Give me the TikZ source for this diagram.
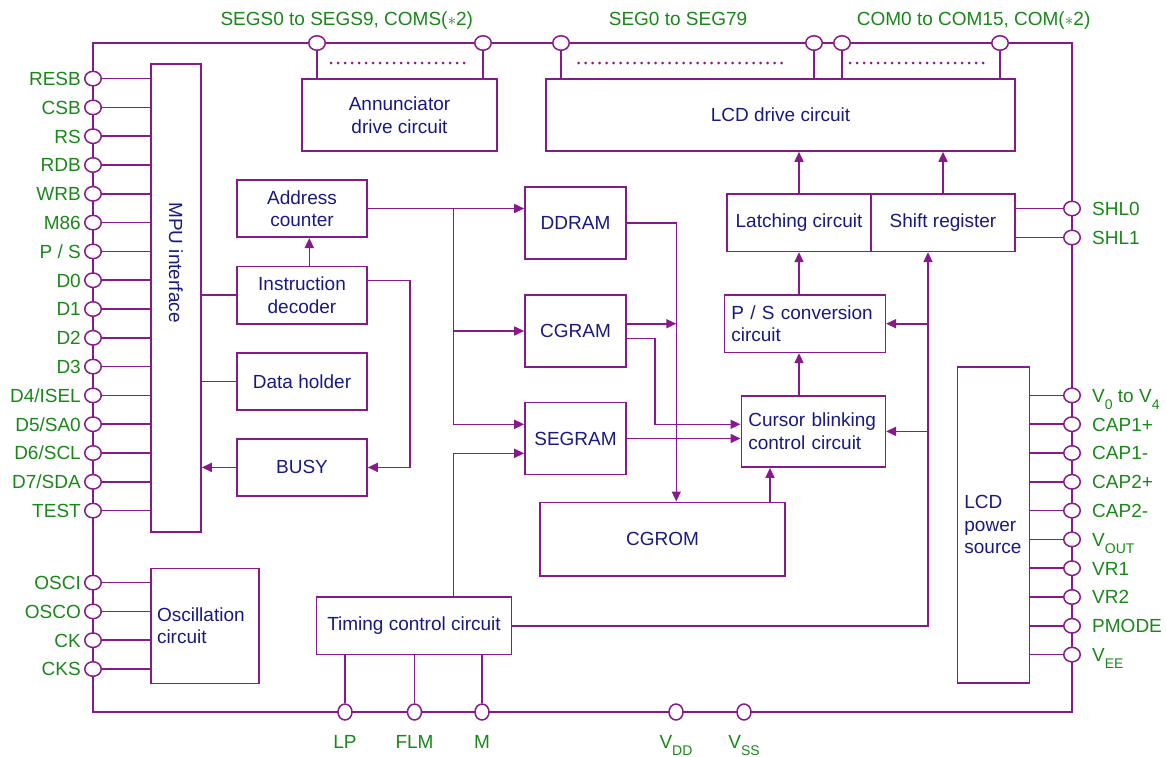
\documentclass[tikz,border=0pt]{standalone}
\usepackage{fontspec}
\setmainfont{Liberation Sans}
\usetikzlibrary{arrows.meta,shapes.geometric,calc}
\definecolor{lnc}{RGB}{135,25,140}
\definecolor{txc}{RGB}{25,25,130}
\definecolor{pnc}{RGB}{25,135,25}
\newcommand\pinsub[1]{\raisebox{-7pt}{\fontsize{14}{14}\selectfont #1}}
\begin{document}
\begin{tikzpicture}[x=1pt,y=-1pt,
  blk/.style={draw=lnc, line width=1.6pt, fill=white, text=txc, align=center, inner sep=0pt, font=\fontsize{19}{22.5}\selectfont},
  lblk/.style={blk, align=left, inner xsep=7pt},
  pin/.style={ellipse, draw=lnc, fill=white, line width=1.5pt, minimum width=16.5pt, minimum height=14.5pt, inner sep=0pt},
  bpin/.style={pin, minimum width=14pt, minimum height=16pt},
  wire/.style={draw=lnc, line width=1.6pt},
  arr/.style={wire, -{Triangle[length=10pt,width=9pt]}},
  lbl/.style={text=pnc, inner sep=0pt, font=\fontsize{19}{22.5}\selectfont},
  dots/.style={draw=lnc, line width=3pt, line cap=round, dash pattern=on 0pt off 7pt},
]
\useasboundingbox (0,0) rectangle (1166,756);

% frame
\coordinate (ftl) at (93,43);
\coordinate (ftr) at (1072,43);
\coordinate (fbr) at (1072,712);
\coordinate (fbl) at (93,712);
\draw[wire] (ftl) -- (ftr) -- (fbr) -- (fbl) -- cycle;

% blocks
\node[blk, minimum width=195pt, minimum height=72pt] (ann) at (399.5,115) {Annunciator\\drive circuit};
\node[blk, minimum width=469pt, minimum height=72pt] (lcd) at (780.5,115) {LCD drive circuit};
\node[blk, minimum width=50pt, minimum height=468pt] (mpu) at (176,298) {};
\node[text=txc, rotate=-90, inner sep=0pt, font=\fontsize{19}{22.5}\selectfont] (mputxt) at (176,262.5) {MPU interface};
\node[blk, minimum width=130pt, minimum height=57.4pt] (ac) at (302,208.5) {Address\\counter};
\node[blk, minimum width=130pt, minimum height=57.4pt] (id) at (302,295) {Instruction\\decoder};
\node[blk, minimum width=130pt, minimum height=57.4pt] (dh) at (302,381.4) {Data holder};
\node[blk, minimum width=130pt, minimum height=57.4pt] (busy) at (302,467.4) {BUSY};
\node[blk, minimum width=101pt, minimum height=72pt] (ddram) at (575.5,223) {DDRAM};
\node[blk, minimum width=101pt, minimum height=72pt] (cgram) at (575.5,331) {CGRAM};
\node[blk, minimum width=101pt, minimum height=72pt] (segram) at (575.5,438.5) {SEGRAM};
\node[blk, minimum width=245pt, minimum height=73.4pt] (cgrom) at (662.5,539) {CGROM};
\node[blk, minimum width=144pt, minimum height=57.3pt] (latch) at (799,222.7) {Latching circuit};
\node[blk, minimum width=144pt, minimum height=57.3pt] (shift) at (943,222.7) {Shift register};
\node[lblk, text width=147pt, minimum height=57.3pt] (ps) at (804.8,323.7) {P / S conversion\\circuit};
\node[lblk, text width=130pt, minimum height=71.3pt] (cursor) at (813.3,431.4) {Cursor blinking\\control circuit};
\node[blk, minimum width=195pt, minimum height=57.3pt] (tim) at (414,625.7) {Timing control circuit};
\node[lblk, inner xsep=6pt, text width=96pt, minimum height=115pt] (osc) at (205,625.8) {Oscillation\\circuit};
\node[lblk, text width=58pt, minimum height=316pt] (pwr) at (993.4,524.7) {LCD\\power\\source};

% dotted pin runs
\draw[dots] (331,63) -- (466,63);
\draw[dots] (578.5,63) -- (788,63);
\draw[dots] (850,63) -- (985,63);

% left pins
\foreach \n/\y/\t in {1/78.6/RESB, 2/107.4/CSB, 3/136.2/RS, 4/165/RDB, 5/193.8/WRB, 6/222.6/M86, 7/251.4/{P / S}, 8/280.2/D0, 9/309/D1, 10/337.8/D2, 11/366.6/D3, 12/395.4/{D4/ISEL}, 13/424.2/{D5/SA0}, 14/453/{D6/SCL}, 15/481.8/{D7/SDA}, 16/510.6/TEST}{
  \node[pin] (l\n) at (93,\y) {};
  \node[lbl, anchor=base east] (ll\n) at (81,\y+6.8) {\t};
  \draw[wire] (l\n) -- (mpu.west |- l\n);
}
\foreach \n/\y/\t in {1/582.6/OSCI, 2/611.4/OSCO, 3/640.2/CK, 4/669/CKS}{
  \node[pin] (o\n) at (93,\y) {};
  \node[lbl, anchor=base east] (ol\n) at (81,\y+6.8) {\t};
  \draw[wire] (o\n) -- (osc.west |- o\n);
}

% right pins
\foreach \n/\y/\t in {1/208.5/SHL0, 2/237.5/SHL1}{
  \node[pin] (s\n) at (1072,\y) {};
  \node[lbl, anchor=base west] (sl\n) at (1092,\y+6.8) {\t};
  \draw[wire] (s\n) -- (shift.east |- s\n);
}
\foreach \n/\y/\t in {1/395.4/{V\pinsub{0} to V\pinsub{4}}, 2/424.2/CAP1+, 3/453/CAP1-, 4/481.8/CAP2+, 5/510.6/CAP2-, 6/539.4/V\pinsub{OUT}, 7/568.2/VR1, 8/597/VR2, 9/625.8/PMODE, 10/654.6/V\pinsub{EE}}{
  \node[pin] (r\n) at (1072,\y) {};
  \node[lbl, anchor=base west] (rl\n) at (1092,\y+6.8) {\t};
  \draw[wire] (r\n) -- (pwr.east |- r\n);
}

% top pins
\foreach \n/\x in {1/317, 2/483}{
  \node[pin] (t\n) at (\x,43) {};
  \draw[wire] (t\n) -- (t\n |- ann.north);
}
\foreach \n/\x in {3/561, 4/814, 5/842, 6/1000}{
  \node[pin] (t\n) at (\x,43) {};
  \draw[wire] (t\n) -- (t\n |- lcd.north);
}
\node[lbl, anchor=base] (tl1) at (346.8,25) {SEGS0 to SEGS9, COMS($\ast$2)};
\node[lbl, anchor=base] (tl2) at (678,25) {SEG0 to SEG79};
\node[lbl, anchor=base] (tl3) at (973.6,25) {COM0 to COM15, COM($\ast$2)};

% bottom pins
\foreach \n/\x/\t in {1/345/LP, 2/414.5/FLM, 3/482/M, 4/676/V\pinsub{DD}, 5/744/V\pinsub{SS}}{
  \node[bpin] (b\n) at (\x,712) {};
  \node[lbl, anchor=base] (bl\n) at (\x,748) {\t};
}
\foreach \n in {1,2,3}{
  \draw[wire] (tim.south -| b\n) -- (b\n);
}

% bus coordinates
\coordinate (xid) at (309.3,0);
\coordinate (xib) at (409.7,0);
\coordinate (xab) at (453.3,0);
\coordinate (xcg) at (655,0);
\coordinate (xdd) at (676.3,0);
\coordinate (xrom) at (770,0);
\coordinate (xtb) at (928,0);
\coordinate (idr) at ([yshift=14.7pt]id.east);
\coordinate (segin1) at ([yshift=14.2pt]segram.west);
\coordinate (segin2) at ([yshift=-14.8pt]segram.west);
\coordinate (cgo1) at ([yshift=7.3pt]cgram.east);
\coordinate (cgo2) at ([yshift=-7.3pt]cgram.east);
\coordinate (cui1) at ([yshift=7.1pt]cursor.west);

% connectors
\draw[arr] (id.north -| xid) -- (ac.south -| xid);
\draw[wire] (mpu.east |- id) -- (id.west);
\draw[wire] (mpu.east |- dh) -- (dh.west);
\draw[arr] (busy.west) -- (mpu.east |- busy);
\draw[arr] (idr) -- (idr -| xib) -- (busy.east -| xib) -- (busy.east);
\draw[arr] (ac.east) -- (ddram.west |- ac.east);
\draw[wire] (ac.east -| xab) -- (xab |- segin1);
\draw[arr] (xab |- cgram) -- (cgram.west);
\draw[arr] (xab |- segin1) -- (segin1);
\draw[arr] (tim.north -| xab) -- (xab |- segin2) -- (segin2);
\draw[arr] (ddram.east) -- (ddram.east -| xdd) -- (cgrom.north -| xdd);
\draw[arr] (cgo1) -- (cgo1 -| xdd);
\draw[arr] (cgo2) -- (cgo2 -| xcg) -- (xcg |- cui1) -- (cui1);
\draw[arr] (segram.east) -- (segram.east -| cursor.west);
\draw[arr] (cgrom.north -| xrom) -- (cursor.south -| xrom);
\draw[arr] (cursor.north -| latch) -- (ps.south -| latch);
\draw[arr] (ps.north -| latch) -- (latch.south);
\draw[arr] (latch.north) -- (lcd.south -| latch);
\draw[arr] (shift.north) -- (lcd.south -| shift);
\draw[arr] (tim.east) -- (tim.east -| xtb) -- (shift.south -| xtb);
\draw[arr] (ps.east -| xtb) -- (ps.east);
\draw[arr] (cursor.east -| xtb) -- (cursor.east);
\end{tikzpicture}
\end{document}
